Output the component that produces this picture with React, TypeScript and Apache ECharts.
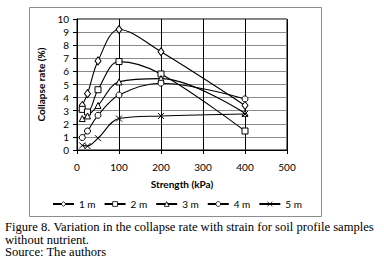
import React, { useEffect, useRef } from "react";
import * as echarts from "echarts";

const strengths = [12.5, 25, 50, 100, 200, 400];
const seriesNames = ["1 m", "2 m", "3 m", "4 m", "5 m"];
const rate1m = [3.4, 4.3, 6.8, 9.2, 7.5, 3.4];
const rate2m = [3.1, 2.9, 4.6, 6.75, 5.8, 1.45];
const rate3m = [2.4, 2.6, 3.4, 5.2, 5.45, 2.8];
const rate4m = [0.95, 1.45, 2.65, 4.2, 5.1, 3.9];
const rate5m = [0.35, 0.3, 0.9, 2.4, 2.6, 2.75];
const xTicks = [0, 100, 200, 300, 400, 500];
const captionLines = [
  "Figure 8. Variation in the collapse rate with strain for soil profile samples",
  "without nutrient.",
  "Source: The authors",
];

const symbols = [
  "diamond",
  "rect",
  "triangle",
  "circle",
  "path://M0,0L10,10M10,0L0,10",
];

export default function App() {
  const ref = useRef<HTMLDivElement>(null);
  useEffect(() => {
    document.body.style.margin = "0";
    const chart = echarts.init(ref.current!, null, { renderer: "svg" });
    const data = [rate1m, rate2m, rate3m, rate4m, rate5m];
    const font = "Lato, 'Open Sans', sans-serif";
    chart.setOption({
      animation: false,
      backgroundColor: "#fff",
      grid: {
        left: 77,
        top: 19,
        width: 210,
        height: 131,
        show: true,
        borderColor: "#000",
        borderWidth: 1,
        containLabel: false,
      },
      xAxis: {
        type: "value",
        min: 0,
        max: 500,
        interval: 100,
        name: "Strength (kPa)",
        nameLocation: "middle",
        nameGap: 29,
        nameTextStyle: { fontFamily: font, fontWeight: "bold", fontSize: 10, color: "#000" },
        axisLine: { show: true, lineStyle: { color: "#000" } },
        axisTick: { show: true, inside: false, length: 4, lineStyle: { color: "#000" } },
        axisLabel: {
          margin: 12,
          fontFamily: font,
          fontSize: 10,
          color: "#000",
          formatter: (v: number) => (xTicks.includes(v) ? String(v) : ""),
        },
        splitLine: { show: true, lineStyle: { color: "#000", width: 1 } },
      },
      yAxis: {
        type: "value",
        min: 0,
        max: 10,
        interval: 1,
        name: "Collapse rate (%)",
        nameLocation: "middle",
        nameGap: 29,
        nameRotate: 90,
        nameTextStyle: { fontFamily: font, fontWeight: "bold", fontSize: 10, color: "#000" },
        axisLine: { show: true, lineStyle: { color: "#000" } },
        axisTick: { show: true, length: 4, lineStyle: { color: "#000" } },
        axisLabel: { margin: 8, fontFamily: font, fontSize: 10, color: "#000" },
        splitLine: { show: true, lineStyle: { color: "#8a8a8a", width: 1 } },
      },
      legend: {
        left: 52,
        top: 199,
        padding: 0,
        itemWidth: 21,
        itemHeight: 6,
        itemGap: 8,
        textStyle: { fontFamily: font, fontSize: 10, color: "#000" },
        itemStyle: { color: "#fff", borderColor: "#000", borderWidth: 0.8 },
        data: seriesNames,
      },
      series: seriesNames.map((n, i) => ({
        name: n,
        type: "line",
        smooth: 0.35,
        data: strengths.map((s, j) => [s, data[i][j]]),
        symbol: symbols[i],
        symbolSize: i === 0 ? [6, 8] : 6,
        showSymbol: true,
        lineStyle: { color: "#000", width: 1.1 },
        itemStyle: { color: "#fff", borderColor: "#000", borderWidth: 1 },
      })),
      graphic: [
        {
          type: "rect",
          shape: { x: 29.5, y: 7.5, width: 292, height: 209 },
          style: { fill: "none", stroke: "#8c8c8c", lineWidth: 1 },
          z: -1,
        },
        ...captionLines.map((t, i) => ({
          type: "text",
          x: 5,
          y: 227 + i * 12.5,
          style: {
            text: t,
            font: "12.6px 'Liberation Serif', 'Times New Roman', serif",
            fill: "#000",
            verticalAlign: "middle",
          },
        })),
      ],
    });
    return () => chart.dispose();
  }, []);
  return (
    <div
      ref={ref}
      style={{ position: "absolute", left: 0, top: 0, width: 384, height: 263, background: "#fff" }}
    />
  );
}
